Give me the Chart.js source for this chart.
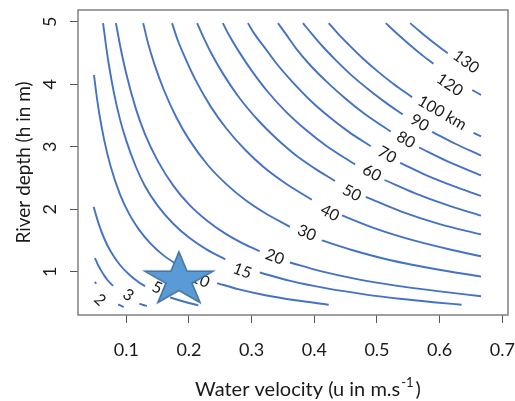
<!DOCTYPE html>
<html>
<head>
<meta charset="utf-8">
<script src="https://cdn.jsdelivr.net/npm/chart.js@4.4.1/dist/chart.umd.min.js"></script>
<style>
  html, body { margin: 0; padding: 0; background: #fff; }
  #wrap { width: 515px; height: 401px; }
</style>
</head>
<body>
<div id="wrap"><canvas id="chart"></canvas></div>
<script>
// Contour levels (km) and the text written on each line
const levels = [2, 3, 5, 10, 15, 20, 30, 40, 50, 60, 70, 80, 90, 100, 120, 130];
const levelLabels = ['2', '3', '5', '10', '15', '20', '30', '40', '50', '60', '70', '80', '90', '100 km', '120', '130'];

// Points as [u, h]; null marks the break where the label sits
const c2 = [[0.05, 0.84], [0.052, 0.81], null, [0.087, 0.48], [0.092, 0.457], [0.096, 0.44]];
const c3 = [[0.05, 1.22], [0.055, 1.11], [0.06, 1.02], [0.065, 0.94], [0.07, 0.87], [0.075, 0.815], [0.079, 0.775], null,
  [0.121, 0.49], [0.127, 0.47], [0.133, 0.455]];
const c5 = [[0.048, 2.04], [0.052, 1.9], [0.057, 1.74], [0.065, 1.53], [0.075, 1.33], [0.09, 1.11], [0.105, 0.955], [0.12, 0.835],
  [0.13, 0.77], null, [0.17, 0.59], [0.19, 0.53], [0.215, 0.465]];
const c10 = [[0.0485, 4.15], [0.052, 3.87], [0.057, 3.53], [0.065, 3.1], [0.075, 2.69], [0.09, 2.24], [0.105, 1.92], [0.12, 1.68],
  [0.14, 1.44], [0.16, 1.26], [0.19, 1.06], null, [0.245, 0.82], [0.28, 0.72], [0.32, 0.63], [0.37, 0.545], [0.423, 0.475]];
const c15 = [[0.063, 4.98], [0.067, 4.67], [0.072, 4.33], [0.08, 3.88], [0.09, 3.44], [0.1, 3.1], [0.115, 2.69], [0.13, 2.37],
  [0.15, 2.06], [0.175, 1.77], [0.2, 1.55], [0.228, 1.36], [0.258, 1.2], null, [0.313, 0.99], [0.36, 0.86], [0.42, 0.735],
  [0.48, 0.64], [0.54, 0.565], [0.59, 0.515], [0.635, 0.475]];
const c20 = [[0.0835, 4.98], [0.09, 4.63], [0.1, 4.17], [0.115, 3.62], [0.13, 3.2], [0.15, 2.78], [0.175, 2.38], [0.2, 2.08],
  [0.23, 1.81], [0.26, 1.6], [0.29, 1.435], [0.313, 1.33], null, [0.361, 1.15], [0.41, 1.012], [0.47, 0.88], [0.53, 0.78],
  [0.6, 0.688], [0.666, 0.61]];
const c30 = [[0.127, 4.98], [0.135, 4.65], [0.145, 4.32], [0.16, 3.91], [0.18, 3.47], [0.2, 3.12], [0.23, 2.71], [0.26, 2.4],
  [0.29, 2.15], [0.32, 1.95], [0.361, 1.72], null, [0.412, 1.505], [0.46, 1.35], [0.52, 1.19], [0.59, 1.05], [0.666, 0.925]];
const c40 = [[0.173, 4.98], [0.182, 4.71], [0.195, 4.4], [0.21, 4.08], [0.235, 3.64], [0.26, 3.29], [0.29, 2.95], [0.32, 2.67],
  [0.355, 2.41], [0.396, 2.155], null, [0.444, 1.905], [0.5, 1.685], [0.56, 1.5], [0.62, 1.35], [0.666, 1.25]];
const c50 = [[0.213, 4.98], [0.222, 4.78], [0.235, 4.51], [0.255, 4.16], [0.28, 3.79], [0.31, 3.43], [0.34, 3.13], [0.37, 2.87],
  [0.4, 2.66], [0.433, 2.455], null, [0.482, 2.2], [0.54, 1.96], [0.6, 1.765], [0.666, 1.6]];
const c60 = [[0.254, 4.98], [0.265, 4.77], [0.28, 4.52], [0.3, 4.22], [0.325, 3.89], [0.355, 3.56], [0.385, 3.285], [0.42, 3.01],
  [0.465, 2.72], null, [0.512, 2.47], [0.56, 2.26], [0.61, 2.075], [0.666, 1.9]];
const c70 = [[0.294, 4.98], [0.305, 4.8], [0.32, 4.6], [0.34, 4.33], [0.365, 4.04], [0.395, 3.73], [0.425, 3.47], [0.455, 3.24],
  [0.49, 3.01], null, [0.537, 2.745], [0.58, 2.54], [0.62, 2.38], [0.666, 2.215]];
const c80 = [[0.342, 4.98], [0.355, 4.8], [0.372, 4.56], [0.395, 4.29], [0.42, 4.04], [0.45, 3.77], [0.48, 3.53], [0.522, 3.245],
  null, [0.567, 2.99], [0.61, 2.78], [0.666, 2.545]];
const c90 = [[0.382, 4.98], [0.395, 4.82], [0.413, 4.61], [0.435, 4.38], [0.46, 4.14], [0.49, 3.89], [0.515, 3.7], [0.541, 3.52],
  null, [0.588, 3.24], [0.625, 3.05], [0.666, 2.86]];
const c100 = [[0.423, 4.98], [0.437, 4.82], [0.455, 4.635], [0.478, 4.41], [0.502, 4.2], [0.528, 3.995], [0.556, 3.795], null,
  [0.654, 3.225], [0.666, 3.168]];
const c120 = [[0.514, 4.98], [0.53, 4.83], [0.548, 4.67], [0.568, 4.5], [0.59, 4.33], null, [0.652, 3.91], [0.666, 3.83]];
const c130 = [[0.553, 4.98], [0.568, 4.85], [0.585, 4.71], [0.6, 4.595], [0.613, 4.5]];
const contours = [c2, c3, c5, c10, c15, c20, c30, c40, c50, c60, c70, c80, c90, c100, c120, c130];

// Where each label sits (u, h)
const labelU = [0.058, 0.103, 0.149, 0.218, 0.285, 0.337, 0.388, 0.425, 0.46, 0.492, 0.516, 0.546, 0.568, 0.604, 0.616, 0.642];
const labelH = [0.55, 0.63, 0.745, 0.872, 1.016, 1.24, 1.624, 1.944, 2.264, 2.584, 2.872, 3.112, 3.384, 3.544, 3.992, 4.36];

// The star marker
const starU = [0.184];
const starH = [0.872];

// Axis ticks
const xTicks = [0.1, 0.2, 0.3, 0.4, 0.5, 0.6, 0.7];
const yTicks = [1, 2, 3, 4, 5];

const LINE_BLUE = '#4472C4';
const TEXT = '#1a1a1a';
Chart.defaults.font.family = 'Lato, "Open Sans", sans-serif';

// star drawn once on a small canvas, used as the point style
function makeStar() {
    const c = document.createElement('canvas');
    c.width = 78;
    c.height = 64;
    const g = c.getContext('2d');
    const cx = 39, cy = 32, rx = 36, ry = 28, inner = 0.382;
    g.beginPath();
    for (let i = 0; i < 10; i++) {
        const a = -Math.PI / 2 + i * Math.PI / 5;
        const r = i % 2 ? inner : 1;
        g.lineTo(cx + Math.cos(a) * rx * r, cy + Math.sin(a) * ry * r);
    }
    g.closePath();
    g.fillStyle = '#5B9BD5';
    g.fill();
    g.strokeStyle = '#41719C';
    g.lineWidth = 1.5;
    g.stroke();
    return c;
}

function toPoints(list) {
    return list.map(p => p ? { x: p[0], y: p[1] } : { x: null, y: null });
}

const datasets = [{
    data: starU.map((u, i) => ({ x: u, y: starH[i] })),
    pointStyle: makeStar(),
    pointRadius: 30,
    showLine: false,
    order: 0
}];
contours.forEach((c, i) => {
    datasets.push({
        label: levelLabels[i],
        data: toPoints(c),
        showLine: true,
        borderColor: LINE_BLUE,
        borderWidth: 1.9,
        pointRadius: 0,
        cubicInterpolationMode: 'monotone',
        spanGaps: false,
        order: 1
    });
});

// contour labels, drawn before the datasets so the star sits on top
const contourLabels = {
    id: 'contourLabels',
    beforeDatasetsDraw(chart) {
        const { ctx, scales: { x, y } } = chart;
        ctx.save();
        ctx.fillStyle = TEXT;
        ctx.font = '16px Lato';
        ctx.textAlign = 'center';
        ctx.textBaseline = 'middle';
        contours.forEach((c, i) => {
            const gap = c.indexOf(null);
            let a, b;
            if (gap > 0) { a = c[gap - 1]; b = c[gap + 1]; }
            else { a = c[c.length - 2]; b = c[c.length - 1]; }
            const ang = Math.atan2(y.getPixelForValue(b[1]) - y.getPixelForValue(a[1]),
                x.getPixelForValue(b[0]) - x.getPixelForValue(a[0]));
            ctx.save();
            ctx.translate(x.getPixelForValue(labelU[i]), y.getPixelForValue(labelH[i]));
            ctx.rotate(ang);
            ctx.fillText(levelLabels[i], 0, 0);
            ctx.restore();
        });
        ctx.restore();
    }
};

// frame, vertical y tick labels and the x title with its superscript
const decorations = {
    id: 'decorations',
    afterDraw(chart) {
        const { ctx, chartArea, scales: { y } } = chart;
        ctx.save();
        ctx.strokeStyle = '#808080';
        ctx.lineWidth = 1.5;
        ctx.strokeRect(chartArea.left, chartArea.top, chartArea.right - chartArea.left, chartArea.bottom - chartArea.top);

        ctx.fillStyle = TEXT;
        ctx.font = '18px Lato';
        ctx.textAlign = 'center';
        ctx.textBaseline = 'middle';
        yTicks.forEach(v => {
            ctx.save();
            ctx.translate(chartArea.left - 28, y.getPixelForValue(v));
            ctx.rotate(-Math.PI / 2);
            ctx.fillText(String(v), 0, 0);
            ctx.restore();
        });

        const main = 'Water velocity (u in m.s', sup = '-1', tail = ')';
        ctx.textAlign = 'left';
        ctx.textBaseline = 'alphabetic';
        ctx.font = '20px Lato';
        const w1 = ctx.measureText(main).width, w3 = ctx.measureText(tail).width;
        ctx.font = '13px Lato';
        const w2 = ctx.measureText(sup).width;
        let tx = (chartArea.left + chartArea.right) / 2 + 15 - (w1 + w2 + w3 + 3) / 2;
        const ty = chartArea.bottom + 81;
        ctx.font = '20px Lato';
        ctx.fillText(main, tx, ty);
        tx += w1 + 1;
        ctx.font = '13px Lato';
        ctx.fillText(sup, tx, ty - 9);
        tx += w2 + 2;
        ctx.font = '20px Lato';
        ctx.fillText(tail, tx, ty);
        ctx.restore();
    }
};

new Chart(document.getElementById('chart'), {
    type: 'scatter',
    data: { datasets: datasets },
    options: {
        responsive: true,
        maintainAspectRatio: false,
        animation: false,
        layout: { autoPadding: false, padding: { top: 10, right: 7, left: 0, bottom: 0 } },
        plugins: { legend: { display: false }, tooltip: { enabled: false } },
        scales: {
            x: {
                type: 'linear',
                min: 0.023,
                max: 0.709,
                afterBuildTicks: s => { s.ticks = xTicks.map(v => ({ value: v })); },
                afterFit: s => { s.height = 86; s.paddingLeft = 0; s.paddingRight = 0; },
                ticks: {
                    color: TEXT,
                    font: { size: 18 },
                    padding: 16,
                    maxRotation: 0,
                    autoSkip: false,
                    callback: v => v.toFixed(1)
                },
                grid: { drawOnChartArea: false, drawTicks: true, tickLength: 8, color: '#555' },
                border: { display: false }
            },
            y: {
                type: 'linear',
                min: 0.31,
                max: 5.19,
                afterBuildTicks: s => { s.ticks = yTicks.map(v => ({ value: v })); },
                afterFit: s => { s.width = 78; s.paddingTop = 0; s.paddingBottom = 0; },
                ticks: { color: 'rgba(0,0,0,0)', font: { size: 18 } },
                grid: { drawOnChartArea: false, drawTicks: true, tickLength: 8, color: '#555' },
                border: { display: false },
                title: {
                    display: true,
                    text: 'River depth (h in m)',
                    color: TEXT,
                    font: { size: 19 },
                    padding: { top: 12 }
                }
            }
        }
    },
    plugins: [contourLabels, decorations]
});
</script>
</body>
</html>
